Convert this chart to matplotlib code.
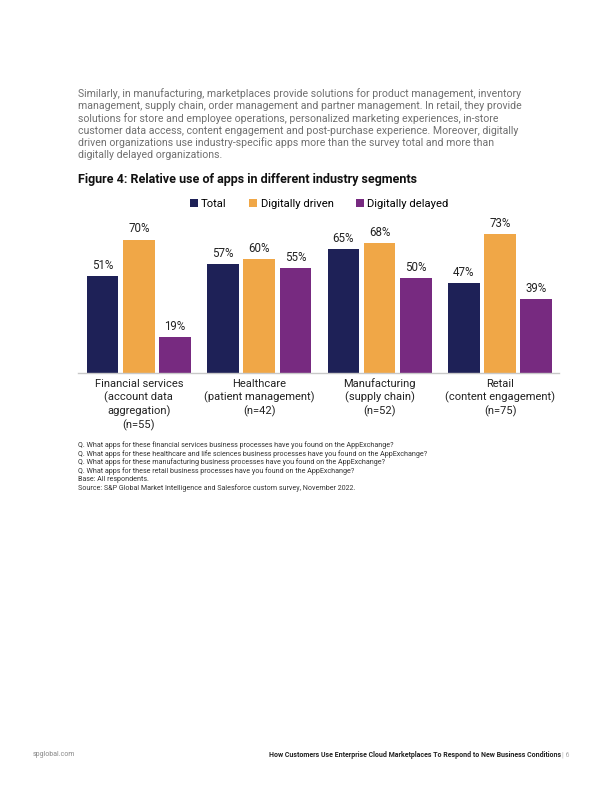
import numpy as np
import matplotlib.pyplot as plt

plt.rcParams['font.family'] = ['Roboto', 'DejaVu Sans']

segments = ['Financial services\n(account data\naggregation)\n(n=55)',
            'Healthcare\n(patient management)\n(n=42)',
            'Manufacturing\n(supply chain)\n(n=52)',
            'Retail\n(content engagement)\n(n=75)']
series = ['Total', 'Digitally driven', 'Digitally delayed']
total = [51, 57, 65, 47]
driven = [70, 60, 68, 73]
delayed = [19, 55, 50, 39]
colors = ['#1e2157', '#f0a747', '#772a80']

paragraph = ("Similarly, in manufacturing, marketplaces provide solutions for product management, inventory\n"
             "management, supply chain, order management and partner management. In retail, they provide\n"
             "solutions for store and employee operations, personalized marketing experiences, in-store\n"
             "customer data access, content engagement and post-purchase experience. Moreover, digitally\n"
             "driven organizations use industry-specific apps more than the survey total and more than\n"
             "digitally delayed organizations.")
title = "Figure 4: Relative use of apps in different industry segments"
notes = ("Q. What apps for these financial services business processes have you found on the AppExchange?\n"
         "Q. What apps for these healthcare and life sciences business processes have you found on the AppExchange?\n"
         "Q. What apps for these manufacturing business processes have you found on the AppExchange?\n"
         "Q. What apps for these retail business processes have you found on the AppExchange?\n"
         "Base: All respondents.\n"
         "Source: S&P Global Market Intelligence and Salesforce custom survey, November 2022.")

fig = plt.figure(figsize=(6, 7.85), dpi=100)
ax = fig.add_axes([0.13, 0.5248, 0.8017, 0.2427])

x = np.arange(len(segments))
w = 0.262
step = 0.301
handles = []
for i, (vals, c) in enumerate(zip([total, driven, delayed], colors)):
    b = ax.bar(x + (i - 1) * step, vals, width=w, color=c, label=series[i])
    handles.append(b)
    for xi, v in zip(x + (i - 1) * step, vals):
        ax.text(xi, v + 2.2, f'{v}%', ha='center', va='bottom', fontsize=8.3, color='#222222')

ax.set_xlim(-0.505, 3.49)
ax.set_ylim(0, 100)
ax.set_yticks([])
ax.set_xticks(x)
ax.set_xticklabels(segments, fontsize=8, color='#222222', linespacing=1.28)
ax.tick_params(axis='x', length=0, pad=4)
for s in ['top', 'right', 'left']:
    ax.spines[s].set_visible(False)
ax.spines['bottom'].set_color('#c8c8c8')
ax.spines['bottom'].set_linewidth(1.0)

fig.legend(handles=handles, loc='center', bbox_to_anchor=(0.532, 1 - 204 / 785), ncol=3,
           frameon=False, fontsize=8.1, handlelength=0.7, handleheight=0.7, handletextpad=0.3,
           columnspacing=2.0)

fig.text(0.13, 1 - 88 / 785, paragraph, fontsize=7.55, color='#707070', va='top', ha='left',
         linespacing=1.23)
fig.text(0.13, 1 - 179 / 785, title, fontsize=9, fontweight='bold', color='#111111',
         va='center', ha='left')
fig.text(0.13, 1 - 441 / 785, notes, fontsize=5.15, color='#333333', va='top', ha='left',
         linespacing=1.17)
fig.text(0.055, 1 - 755 / 785, 'spglobal.com', fontsize=5, color='#888888', va='center')
fig.text(0.935, 1 - 755 / 785, 'How Customers Use Enterprise Cloud Marketplaces To Respond to New Business Conditions',
         fontsize=5, fontweight='bold', color='#222222', va='center', ha='right')
fig.text(0.937, 1 - 755 / 785, '| 6', fontsize=5, color='#aaaaaa', va='center', ha='left')

fig.savefig('out.png', dpi=100)
